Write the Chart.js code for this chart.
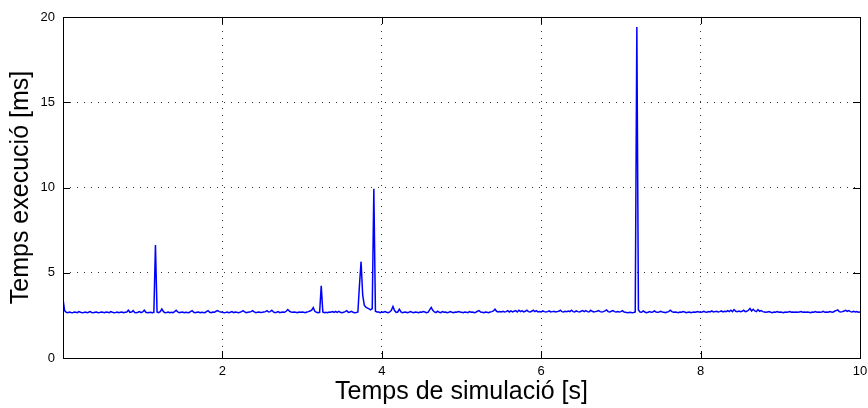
<!DOCTYPE html>
<html>
<head>
<meta charset="utf-8">
<title>Temps execució</title>
<script src="https://cdn.jsdelivr.net/npm/chart.js@4.4.0/dist/chart.umd.min.js"></script>
<style>
  html, body { margin: 0; padding: 0; background: #fff; }
</style>
</head>
<body>
<canvas id="chart" width="868" height="408"></canvas>
<script>
// sampling step of the simulation [s]
const sampleStep = 0.02;

// execution time per step [ms], one row = 0.5 s of simulation
const execTimes = [
  3.45, 2.78, 2.68, 2.66, 2.70, 2.67, 2.65, 2.70, 2.68, 2.66, 2.72, 2.68, 2.66, 2.67, 2.70, 2.66, 2.68, 2.72, 2.67, 2.66, 2.68, 2.70, 2.66, 2.67, 2.70,
  2.68, 2.66, 2.70, 2.68, 2.66, 2.72, 2.68, 2.66, 2.67, 2.70, 2.66, 2.68, 2.70, 2.66, 2.68, 2.70, 2.80, 2.68, 2.70, 2.78, 2.67, 2.66, 2.68, 2.72, 2.66,
  2.70, 2.80, 2.68, 2.66, 2.67, 2.68, 2.66, 2.68, 6.63, 2.70, 2.66, 2.72, 2.88, 2.72, 2.66, 2.67, 2.70, 2.66, 2.68, 2.66, 2.72, 2.80, 2.70, 2.66, 2.68,
  2.70, 2.66, 2.68, 2.67, 2.66, 2.72, 2.78, 2.68, 2.66, 2.68, 2.70, 2.66, 2.68, 2.67, 2.66, 2.72, 2.78, 2.68, 2.66, 2.70, 2.68, 2.74, 2.78, 2.72, 2.70,
  2.68, 2.66, 2.67, 2.70, 2.66, 2.68, 2.72, 2.66, 2.70, 2.68, 2.66, 2.68, 2.72, 2.78, 2.70, 2.66, 2.68, 2.70, 2.72, 2.78, 2.70, 2.66, 2.68, 2.70, 2.67,
  2.68, 2.70, 2.72, 2.78, 2.70, 2.72, 2.80, 2.70, 2.66, 2.68, 2.72, 2.66, 2.68, 2.70, 2.68, 2.74, 2.84, 2.75, 2.70, 2.68, 2.70, 2.68, 2.66, 2.70, 2.68,
  2.70, 2.68, 2.66, 2.70, 2.72, 2.76, 2.80, 2.95, 2.74, 2.68, 2.66, 2.68, 4.24, 2.70, 2.66, 2.68, 2.66, 2.70, 2.68, 2.72, 2.68, 2.74, 2.68, 2.74, 2.68,
  2.66, 2.68, 2.72, 2.78, 2.68, 2.70, 2.74, 2.68, 2.66, 2.67, 2.70, 4.30, 5.65, 3.70, 3.10, 2.98, 2.93, 2.88, 2.82, 2.90, 9.92, 2.74, 2.70, 2.70, 2.66,
  2.70, 2.68, 2.72, 2.68, 2.66, 2.70, 2.80, 3.02, 2.78, 2.68, 2.70, 2.86, 2.70, 2.66, 2.68, 2.70, 2.66, 2.68, 2.72, 2.68, 2.66, 2.70, 2.68, 2.66, 2.70,
  2.68, 2.72, 2.70, 2.66, 2.68, 2.82, 2.97, 2.80, 2.70, 2.66, 2.75, 2.68, 2.66, 2.72, 2.68, 2.70, 2.66, 2.68, 2.72, 2.68, 2.66, 2.70, 2.68, 2.72, 2.70,
  2.68, 2.66, 2.70, 2.68, 2.66, 2.72, 2.68, 2.70, 2.66, 2.68, 2.74, 2.78, 2.70, 2.68, 2.66, 2.70, 2.68, 2.66, 2.70, 2.72, 2.76, 2.86, 2.74, 2.70, 2.72,
  2.70, 2.74, 2.70, 2.72, 2.78, 2.70, 2.76, 2.70, 2.74, 2.78, 2.70, 2.80, 2.72, 2.78, 2.70, 2.74, 2.80, 2.72, 2.70, 2.74, 2.80, 2.72, 2.78, 2.70, 2.72,
  2.70, 2.76, 2.72, 2.70, 2.72, 2.76, 2.70, 2.72, 2.74, 2.70, 2.72, 2.74, 2.80, 2.72, 2.70, 2.74, 2.72, 2.76, 2.72, 2.80, 2.72, 2.70, 2.76, 2.72, 2.70,
  2.74, 2.78, 2.72, 2.78, 2.72, 2.70, 2.80, 2.74, 2.70, 2.72, 2.74, 2.78, 2.72, 2.70, 2.72, 2.76, 2.82, 2.72, 2.70, 2.74, 2.78, 2.72, 2.70, 2.72, 2.70,
  2.72, 2.78, 2.70, 2.68, 2.66, 2.67, 2.68, 2.66, 2.67, 2.70, 19.42, 2.82, 2.70, 2.68, 2.76, 2.70, 2.66, 2.68, 2.72, 2.68, 2.70, 2.76, 2.70, 2.68, 2.70,
  2.74, 2.70, 2.68, 2.66, 2.70, 2.72, 2.80, 2.72, 2.68, 2.70, 2.68, 2.66, 2.70, 2.68, 2.72, 2.70, 2.66, 2.68, 2.70, 2.66, 2.68, 2.70, 2.68, 2.72, 2.70,
  2.68, 2.70, 2.74, 2.70, 2.68, 2.72, 2.70, 2.76, 2.70, 2.72, 2.74, 2.70, 2.72, 2.76, 2.70, 2.74, 2.72, 2.78, 2.72, 2.80, 2.72, 2.84, 2.74, 2.72, 2.76,
  2.72, 2.74, 2.80, 2.72, 2.74, 2.80, 2.90, 2.76, 2.86, 2.76, 2.72, 2.84, 2.74, 2.78, 2.72, 2.70, 2.68, 2.70, 2.72, 2.68, 2.66, 2.70, 2.68, 2.72, 2.68,
  2.70, 2.68, 2.66, 2.70, 2.68, 2.70, 2.72, 2.68, 2.70, 2.68, 2.70, 2.68, 2.70, 2.72, 2.68, 2.70, 2.68, 2.70, 2.68, 2.66, 2.70, 2.68, 2.72, 2.68, 2.70,
  2.68, 2.70, 2.74, 2.68, 2.70, 2.68, 2.72, 2.70, 2.68, 2.74, 2.78, 2.82, 2.72, 2.70, 2.72, 2.76, 2.80, 2.74, 2.78, 2.72, 2.70, 2.74, 2.70, 2.72, 2.68,
  2.70
];

// axis ticks
const xTicks = [0, 2, 4, 6, 8, 10];
const yTicks = [0, 5, 10, 15, 20];

const fontFamily = "'Liberation Sans', Arial, Helvetica, sans-serif";

// box round the plot area plus the short inward tick marks on every side
const framePlugin = {
  id: 'frame',
  afterDraw(chart) {
    const ctx = chart.ctx;
    const a = chart.chartArea;
    const xs = chart.scales.x, ys = chart.scales.y;
    const len = 7;
    ctx.save();
    ctx.strokeStyle = '#000';
    ctx.lineWidth = 1;
    ctx.beginPath();
    xTicks.forEach(v => {
      const px = Math.round(xs.getPixelForValue(v)) + 0.5;
      ctx.moveTo(px, a.bottom); ctx.lineTo(px, a.bottom - len);
      ctx.moveTo(px, a.top); ctx.lineTo(px, a.top + len);
    });
    yTicks.forEach(v => {
      const py = Math.round(ys.getPixelForValue(v)) + 0.5;
      ctx.moveTo(a.left, py); ctx.lineTo(a.left + len, py);
      ctx.moveTo(a.right, py); ctx.lineTo(a.right - len, py);
    });
    ctx.stroke();
    ctx.strokeRect(Math.round(a.left) + 0.5, Math.round(a.top) + 0.5,
                   Math.round(a.right - a.left), Math.round(a.bottom - a.top));
    ctx.restore();
  }
};

function drawChart() {
  const points = execTimes.map((v, i) => ({ x: i * sampleStep, y: v }));
  const ctx = document.getElementById('chart').getContext('2d');
  new Chart(ctx, {
    type: 'line',
    data: {
      datasets: [{
        data: points,
        borderColor: '#0000ff',
        borderWidth: 1.5,
        pointRadius: 0,
        tension: 0,
        fill: false
      }]
    },
    options: {
      responsive: false,
      animation: false,
      parsing: false,
      layout: { padding: { top: 17, right: 8, left: 0, bottom: 0 } },
      plugins: { legend: { display: false }, tooltip: { enabled: false } },
      scales: {
        x: {
          type: 'linear',
          min: 0,
          max: 10,
          // fixed height, and let the "10" label hang over the right edge
          afterFit: s => { s.height = 50; s.paddingLeft = 0; s.paddingRight = 0; },
          afterBuildTicks: s => { s.ticks = xTicks.map(v => ({ value: v })); },
          ticks: {
            color: '#000',
            padding: 6,
            font: { family: fontFamily, size: 13 },
            maxRotation: 0,
            autoSkip: false,
            callback: v => (v === 0 ? '' : v)
          },
          grid: { color: '#333', lineWidth: 1, drawTicks: false },
          border: { display: false, dash: [1, 6] },
          title: {
            display: true,
            text: 'Temps de simulació [s]',
            color: '#000',
            font: { family: fontFamily, size: 25 },
            padding: { top: 0, bottom: 1 }
          }
        },
        y: {
          min: 0,
          max: 20,
          afterFit: s => { s.width = 63; },
          afterBuildTicks: s => { s.ticks = yTicks.map(v => ({ value: v })); },
          ticks: {
            color: '#000',
            padding: 8,
            font: { family: fontFamily, size: 13 }
          },
          grid: { color: '#333', lineWidth: 1, drawTicks: false },
          border: { display: false, dash: [1, 6] },
          title: {
            display: true,
            text: 'Temps execució [ms]',
            color: '#000',
            font: { family: fontFamily, size: 25 },
            padding: { top: 6, bottom: 0 }
          }
        }
      }
    },
    plugins: [framePlugin]
  });
}

drawChart();
</script>
</body>
</html>
